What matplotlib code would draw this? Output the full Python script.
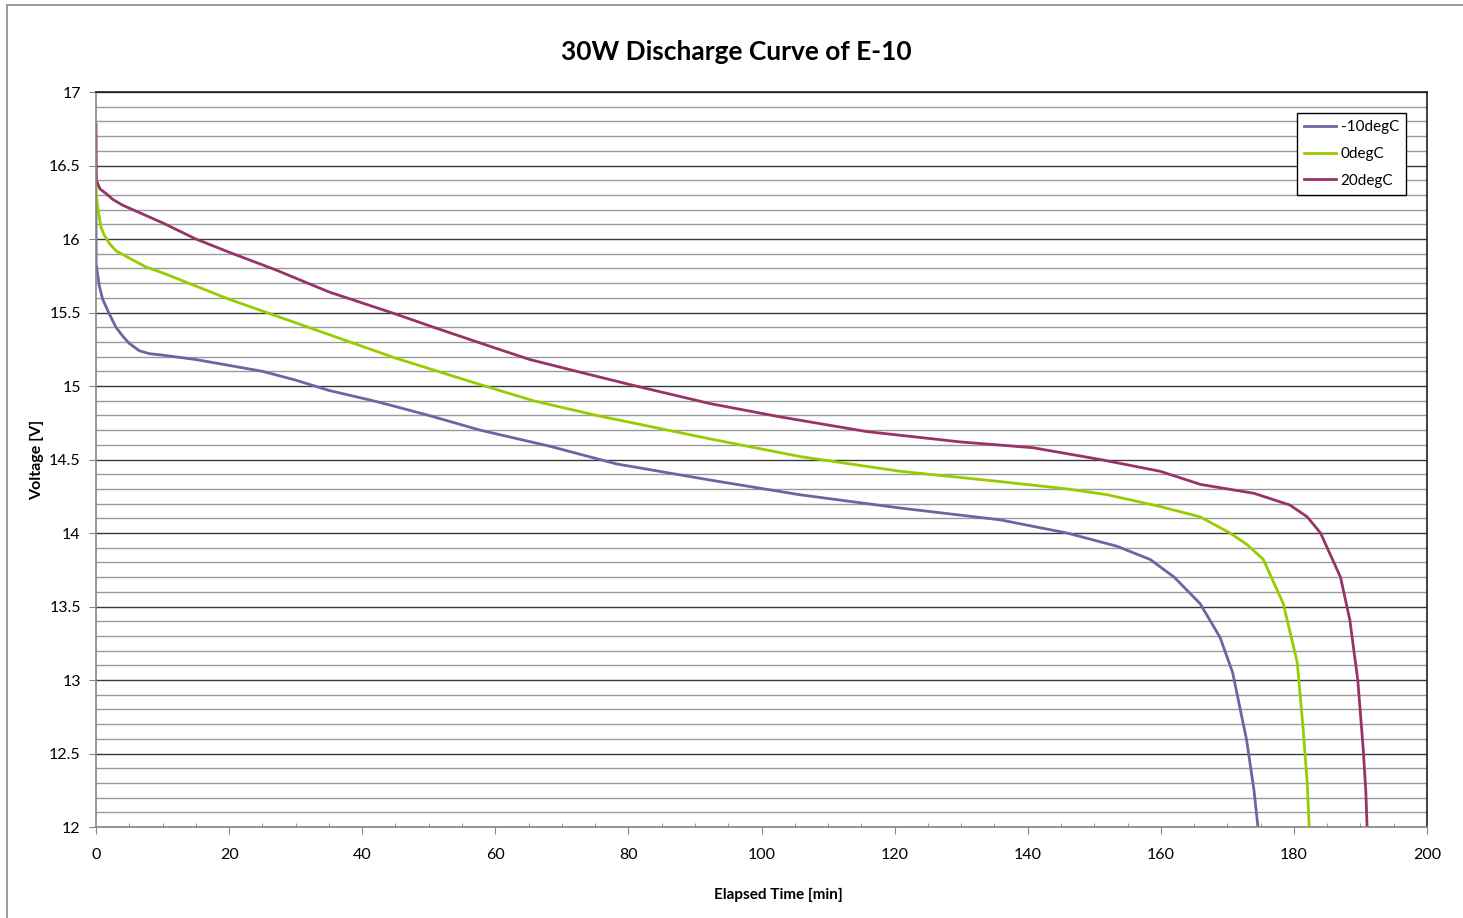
import matplotlib.pyplot as plt
from matplotlib.patches import Rectangle
from matplotlib.ticker import MultipleLocator

plt.rcParams['font.family'] = ['Lato', 'DejaVu Sans']

# -10degC
t_m10 = [0, 0.02, 0.5, 1, 2, 3, 4, 5, 6.5, 8, 10, 15, 20, 25, 30, 35, 41.6, 44.2, 50, 57.7,
         68.2, 78.2, 92.3, 105.8, 120.8, 135.8, 145.9, 153.4, 158.4, 162, 165.9, 168.9,
         170.8, 172.9, 174, 174.6]
v_m10 = [16.22, 15.83, 15.68, 15.59, 15.49, 15.40, 15.34, 15.29, 15.24, 15.22, 15.21, 15.18,
         15.14, 15.10, 15.04, 14.97, 14.90, 14.87, 14.80, 14.70, 14.59, 14.47, 14.36, 14.26,
         14.17, 14.09, 14.0, 13.91, 13.82, 13.70, 13.52, 13.29, 13.05, 12.59, 12.25, 12.0]

# 0degC
t_0 = [0, 0.05, 0.3, 0.75, 1.2, 2, 3, 5, 7.5, 10, 15, 20, 25, 35, 45, 57.7, 65.7, 75.2,
       92.3, 105.8, 120.8, 135.8, 145.9, 152, 159.9, 165.9, 170.4, 173, 175.4, 178.4,
       180.5, 181.4, 182, 182.3]
v_0 = [16.45, 16.3, 16.2, 16.08, 16.03, 15.97, 15.92, 15.87, 15.81, 15.77, 15.68, 15.59,
       15.51, 15.35, 15.19, 15.01, 14.90, 14.80, 14.64, 14.52, 14.42, 14.35, 14.30, 14.26,
       14.18, 14.11, 14.0, 13.92, 13.82, 13.52, 13.12, 12.66, 12.3, 12.0]

# 20degC
t_20 = [0, 0.05, 0.6, 1.5, 2.5, 4, 7, 10, 15, 20, 27, 35, 45, 50.7, 59.2, 65.2, 72.2, 80.2,
        92.3, 102.8, 115.8, 129.8, 140.8, 150.9, 159.9, 166, 174, 179.4, 182, 184, 187,
        188.4, 189.6, 190.4, 190.8, 191]
v_20 = [16.78, 16.40, 16.34, 16.31, 16.27, 16.23, 16.17, 16.11, 16.0, 15.91, 15.79, 15.64,
        15.49, 15.40, 15.27, 15.18, 15.10, 15.01, 14.88, 14.79, 14.69, 14.62, 14.58, 14.50,
        14.42, 14.33, 14.27, 14.19, 14.11, 14.0, 13.70, 13.41, 13.0, 12.54, 12.25, 12.0]

fig = plt.figure(figsize=(14.63, 9.18), dpi=100)
fig.patches.append(Rectangle((7 / 1463, -0.01), 1.02, 1 - 5 / 918 + 0.01,
                             transform=fig.transFigure, fill=False,
                             edgecolor='#8a8a8a', linewidth=1.2))
ax = fig.add_axes([96 / 1463, 1 - 827 / 918, (1427 - 96) / 1463, (827 - 92) / 918])

ax.plot(t_m10, v_m10, color='#6767a3', lw=2.0, label='-10degC')
ax.plot(t_0, v_0, color='#99cc00', lw=2.0, label='0degC')
ax.plot(t_20, v_20, color='#993366', lw=2.0, label='20degC')

ax.set_xlim(0, 200)
ax.set_ylim(12, 17)
ax.xaxis.set_major_locator(MultipleLocator(20))
ax.xaxis.set_minor_locator(MultipleLocator(5))
ax.yaxis.set_major_locator(MultipleLocator(0.5))
ax.yaxis.set_minor_locator(MultipleLocator(0.1))
ax.yaxis.set_major_formatter(plt.FuncFormatter(lambda v, p: '%g' % v))
ax.grid(True, which='major', axis='y', color='#3a3a3a', lw=1.0)
ax.grid(True, which='minor', axis='y', color='#9a9a9a', lw=1.0)
ax.set_axisbelow(True)

ax.tick_params(axis='both', which='major', direction='out', length=5, color='#868686',
               labelsize=11.5, pad=6)
ax.tick_params(axis='x', which='minor', direction='in', length=3, color='#868686')
ax.tick_params(axis='y', which='minor', length=0)
ax.tick_params(axis='x', which='major', pad=10)

ax.spines['left'].set_color('#868686')
ax.spines['bottom'].set_color('#868686')
ax.spines['top'].set_color('#202020')
ax.spines['right'].set_color('#202020')
for s in ax.spines.values():
    s.set_linewidth(1.2)

fig.text(736 / 1463, 1 - 52 / 918, '30W Discharge Curve of E-10', fontsize=19,
         fontweight='bold', ha='center', va='center')
ax.set_xlabel('Elapsed Time [min]', fontsize=11, fontweight='bold')
ax.set_ylabel('Voltage [V]', fontsize=11.5, fontweight='bold')
ax.xaxis.set_label_coords((778 - 96) / 1331, -(895 - 827) / 735)
ax.yaxis.set_label_coords(-(96 - 37) / 1331, 0.5)
ax.xaxis.label.set_va('center')
ax.yaxis.label.set_va('center')

leg = ax.legend(loc='upper right', bbox_to_anchor=(1 - 21 / 1331, 1 - 21 / 735),
                fancybox=False, framealpha=1, edgecolor='black', fontsize=11,
                handlelength=2.1, borderpad=0.45, labelspacing=0.85, handletextpad=0.3,
                borderaxespad=0)
leg.get_frame().set_linewidth(1.0)

fig.savefig('out.png', dpi=100)
